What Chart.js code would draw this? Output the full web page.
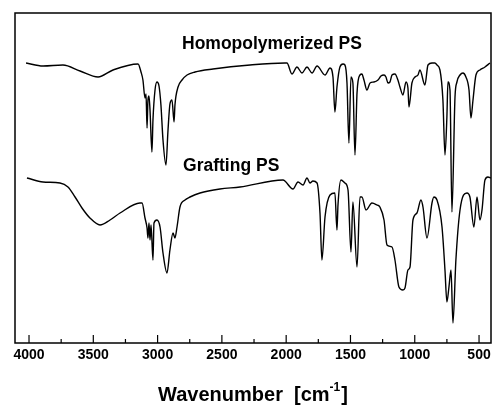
<!DOCTYPE html>
<html>
<head>
<meta charset="utf-8">
<script src="https://cdn.jsdelivr.net/npm/chart.js@4.4.1/dist/chart.umd.min.js"></script>
<style>
  html, body { margin: 0; padding: 0; background: #fff; }
  #wrap { width: 495px; height: 409px; }
</style>
</head>
<body>
<div id="wrap"><canvas id="irChart" width="495" height="409"></canvas></div>
<script>
// IR spectra, wavenumber (cm-1) vs transmittance (arbitrary units, higher = more transmittance)
const homoWavenumbers = [4023, 3891, 3736, 3603, 3463, 3347, 3152, 3129, 3114, 3098, 3090, 3082, 3075, 3067, 3059, 3044, 3036, 3020, 3005, 2989, 2974, 2958, 2935, 2919, 2904, 2888, 2872, 2865, 2841, 2810, 2771, 2709, 2569, 2281, 2009, 1994, 1955, 1916, 1877, 1838, 1799, 1760, 1698, 1659, 1636, 1621, 1605, 1582, 1558, 1543, 1527, 1512, 1496, 1481, 1465, 1449, 1426, 1411, 1395, 1372, 1348, 1317, 1286, 1263, 1239, 1224, 1208, 1193, 1177, 1154, 1131, 1115, 1092, 1068, 1053, 1045, 1022, 998, 975, 960, 921, 897, 866, 843, 827, 804, 781, 765, 750, 742, 726, 711, 687, 672, 648, 625, 602, 578, 563, 547, 524, 493, 454, 415];
const homoSignal = [280, 277, 278, 272, 266, 273, 279, 271, 263, 245, 249, 215, 243, 247, 233, 191, 223, 253, 261, 257, 238, 203, 178, 213, 239, 243, 221, 238, 256, 263, 268, 271, 274, 278, 280, 280, 269, 276, 270, 276, 270, 277, 268, 275, 266, 231, 256, 276, 279, 278, 260, 200, 266, 260, 188, 250, 268, 269, 263, 253, 260, 261, 263, 267, 268, 266, 260, 261, 268, 269, 263, 256, 248, 261, 255, 236, 260, 266, 268, 273, 258, 278, 280, 280, 278, 273, 243, 188, 226, 261, 253, 131, 246, 261, 268, 270, 266, 253, 225, 243, 268, 273, 276, 280];

const graftWavenumbers = [4016, 3891, 3759, 3697, 3642, 3588, 3526, 3448, 3370, 3292, 3137, 3121, 3098, 3082, 3075, 3067, 3059, 3051, 3036, 3028, 3005, 2981, 2958, 2927, 2904, 2880, 2865, 2849, 2826, 2787, 2748, 2670, 2515, 2359, 2025, 1947, 1908, 1869, 1838, 1815, 1792, 1760, 1737, 1722, 1698, 1659, 1621, 1605, 1597, 1574, 1543, 1519, 1496, 1481, 1449, 1426, 1411, 1379, 1333, 1294, 1271, 1239, 1216, 1177, 1154, 1123, 1092, 1076, 1053, 1037, 1014, 983, 952, 936, 905, 866, 851, 827, 788, 765, 750, 734, 718, 703, 680, 648, 594, 571, 540, 516, 493, 477, 454, 431, 407];
const graftSignal = [165, 161, 160, 156, 146, 135, 125, 118, 123, 130, 140, 140, 125, 115, 105, 120, 103, 118, 83, 120, 123, 116, 90, 70, 93, 110, 105, 116, 136, 143, 146, 150, 154, 156, 163, 154, 161, 158, 165, 160, 162, 160, 130, 83, 126, 148, 150, 113, 138, 163, 160, 153, 91, 141, 76, 146, 146, 133, 140, 138, 136, 123, 98, 96, 83, 56, 53, 55, 73, 76, 123, 130, 143, 136, 105, 140, 146, 143, 116, 73, 41, 56, 73, 20, 83, 133, 150, 146, 116, 146, 123, 133, 163, 166, 165];

const tickValues = [4000, 3750, 3500, 3250, 3000, 2750, 2500, 2250, 2000, 1750, 1500, 1250, 1000, 750, 500];

const seriesNames = ['Homopolymerized PS', 'Grafting PS'];
// where each curve's name sits: [wavenumber, signal]
const namePositions = [[2810, 299], [2802, 177]];

const FONT = '"Liberation Sans", Arial, sans-serif';

const toPoints = (xs, ys) => xs.map((x, i) => ({ x: x, y: ys[i] }));

// frame, inward ticks, curve names and axis title
const decorations = {
    id: 'decorations',
    afterDraw: (chart) => {
        const ctx = chart.ctx;
        const area = chart.chartArea;
        const xs = chart.scales.x;
        const ys = chart.scales.y;
        ctx.save();
        ctx.strokeStyle = '#000';
        ctx.lineWidth = 1.5;
        ctx.strokeRect(area.left, area.top, area.right - area.left, area.bottom - area.top);

        ctx.lineWidth = 1.2;
        tickValues.forEach(v => {
            const px = xs.getPixelForValue(v);
            const len = v % 500 === 0 ? 8 : 4;
            ctx.beginPath();
            ctx.moveTo(px, area.bottom);
            ctx.lineTo(px, area.bottom - len);
            ctx.stroke();
        });

        ctx.fillStyle = '#000';
        ctx.font = 'bold 17.5px ' + FONT;
        ctx.textBaseline = 'middle';
        ctx.textAlign = 'left';
        seriesNames.forEach((name, i) => {
            ctx.fillText(name, xs.getPixelForValue(namePositions[i][0]), ys.getPixelForValue(namePositions[i][1]));
        });

        // axis title with superscript
        const main = 'Wavenumber  [cm';
        const sup = '-1';
        const end = ']';
        ctx.font = 'bold 20px ' + FONT;
        const wMain = ctx.measureText(main).width;
        const wEnd = ctx.measureText(end).width;
        ctx.font = 'bold 12px ' + FONT;
        const wSup = ctx.measureText(sup).width;
        const total = wMain + wSup + wEnd + 1;
        let x0 = (area.left + area.right) / 2 - total / 2;
        const baseY = 401;
        ctx.textBaseline = 'alphabetic';
        ctx.font = 'bold 20px ' + FONT;
        ctx.fillText(main, x0, baseY);
        ctx.font = 'bold 12px ' + FONT;
        ctx.fillText(sup, x0 + wMain, baseY - 10);
        ctx.font = 'bold 20px ' + FONT;
        ctx.fillText(end, x0 + wMain + wSup + 1, baseY);
        ctx.restore();
    }
};

new Chart(document.getElementById('irChart').getContext('2d'), {
    type: 'line',
    data: {
        datasets: [
            { label: seriesNames[0], data: toPoints(homoWavenumbers, homoSignal) },
            { label: seriesNames[1], data: toPoints(graftWavenumbers, graftSignal) }
        ]
    },
    options: {
        responsive: false,
        animation: false,
        events: [],
        layout: { padding: { left: 15, top: 13, right: 4, bottom: 0 } },
        elements: {
            line: { borderColor: '#000', borderWidth: 1.4, cubicInterpolationMode: 'monotone', fill: false },
            point: { radius: 0 }
        },
        plugins: { legend: { display: false }, tooltip: { enabled: false } },
        scales: {
            x: {
                type: 'linear',
                reverse: true,
                min: 407,
                max: 4109,
                afterBuildTicks: (scale) => { scale.ticks = tickValues.map(v => ({ value: v })); },
                afterFit: (scale) => { scale.height = 66; },
                grid: { display: false, drawTicks: false },
                border: { display: false },
                ticks: {
                    autoSkip: false,
                    maxRotation: 0,
                    padding: 4,
                    color: '#000',
                    font: { family: FONT, size: 14, weight: 'bold' },
                    callback: (v) => v % 500 === 0 ? String(v) : ''
                }
            },
            y: {
                display: false,
                min: 0,
                max: 330
            }
        }
    },
    plugins: [decorations]
});
</script>
</body>
</html>
